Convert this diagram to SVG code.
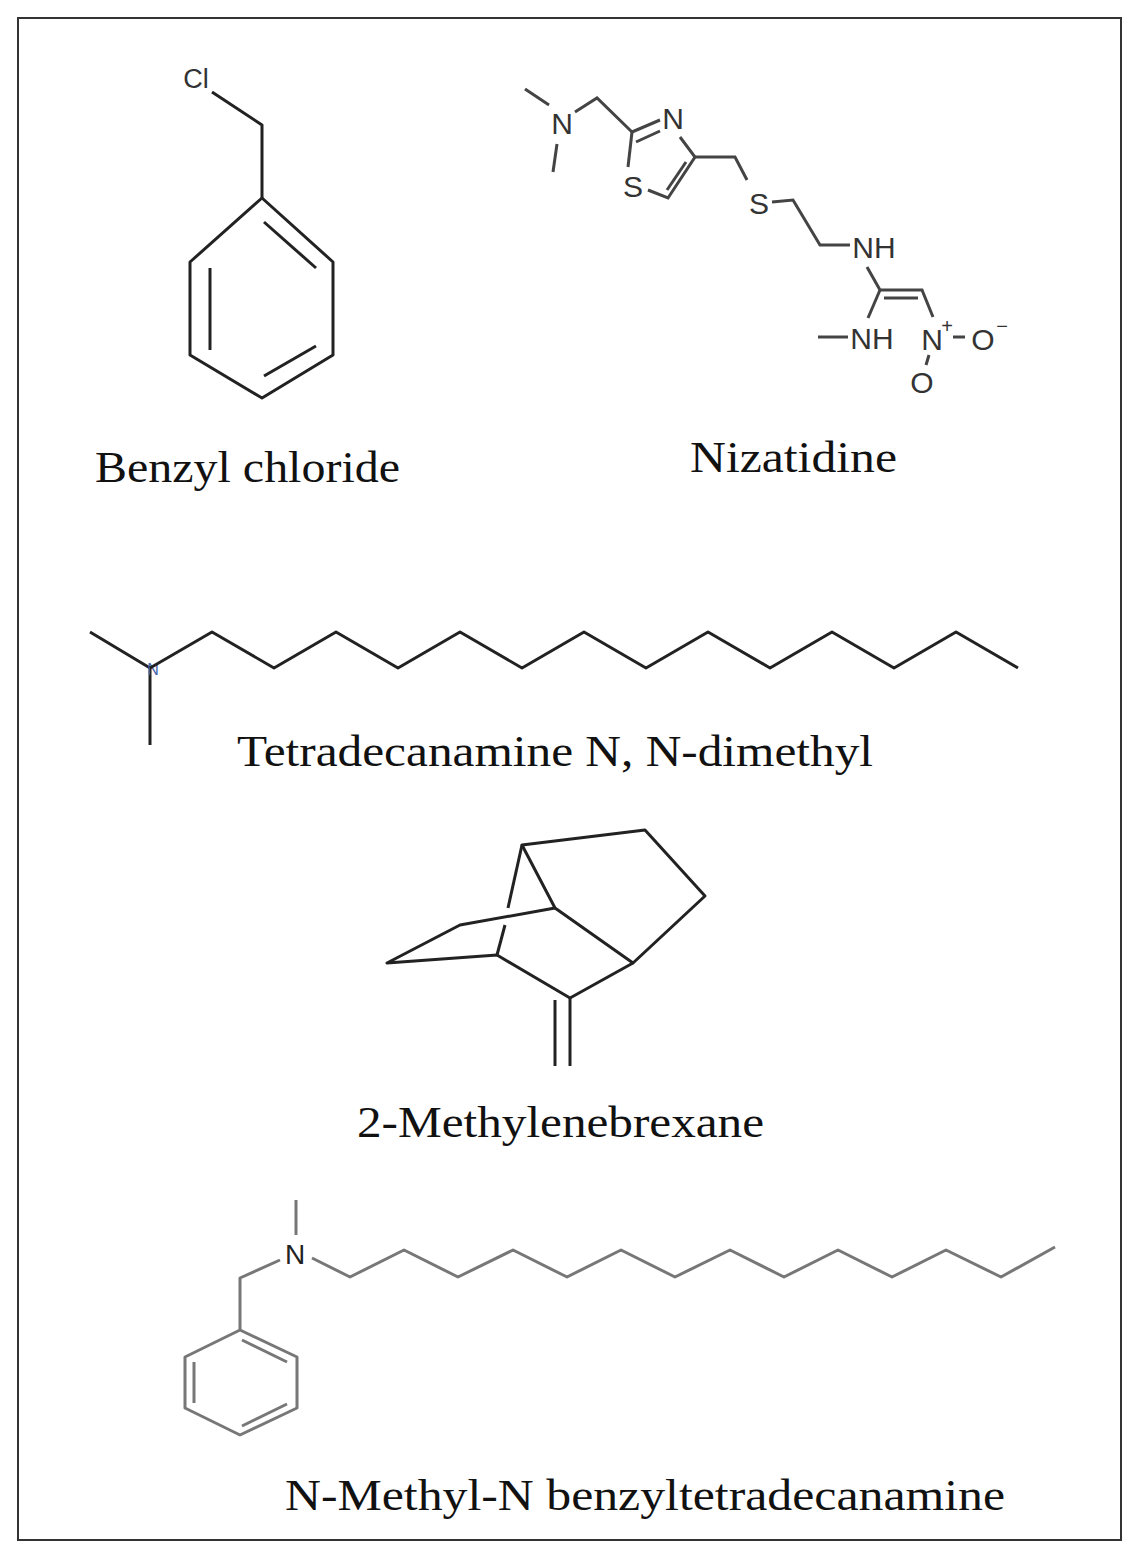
<svg xmlns="http://www.w3.org/2000/svg" width="1139" height="1558" viewBox="0 0 1139 1558">
<style>
.b{fill:none;stroke:#222;stroke-width:3;stroke-linejoin:round}
.g{fill:none;stroke:#777;stroke-width:3;stroke-linejoin:round}
.n{fill:none;stroke:#444;stroke-width:3}
.lab{font-family:"Liberation Serif",serif;font-size:44px;fill:#111}
.at{font-family:"Liberation Sans",sans-serif;font-size:30px;fill:#333;text-anchor:middle}
</style>
<rect x="0" y="0" width="1139" height="1558" fill="#fff"/>
<rect x="18" y="18" width="1103" height="1522" fill="none" stroke="#333" stroke-width="2"/>
<g id="benzyl-chloride">
<text class="at" x="196" y="88" style="font-size:27px">Cl</text>
<polyline class="b" points="212,92 262,125 262,198"/>
<polygon class="b" points="262,198 333,262 333,355 262,398 190,355 190,262"/>
<line class="b" x1="264" y1="222" x2="316" y2="268"/>
<line class="b" x1="210" y1="268" x2="210" y2="350"/>
<line class="b" x1="264" y1="376" x2="316" y2="346"/>
<text class="lab" x="95" y="482" textLength="305" lengthAdjust="spacingAndGlyphs">Benzyl chloride</text>
</g>
<g id="nizatidine">
<line class="n" x1="525" y1="89" x2="549" y2="105"/>
<line class="n" x1="557" y1="144" x2="553" y2="172"/>
<text class="at" x="562" y="134">N</text>
<polyline class="n" points="575,112 597,98 632,132"/>
<line class="n" x1="632" y1="132" x2="660" y2="120"/>
<line class="n" x1="636" y1="142" x2="660" y2="131"/>
<text class="at" x="673" y="129">N</text>
<polyline class="n" points="680,137 695,157 668,198 648,190"/>
<line class="n" x1="686" y1="162" x2="667" y2="190"/>
<text class="at" x="633" y="197">S</text>
<line class="n" x1="628" y1="167" x2="632" y2="132"/>
<polyline class="n" points="695,157 735,157 747,180"/>
<text class="at" x="759" y="214">S</text>
<polyline class="n" points="772,202 793,200 820,245 850,245"/>
<text class="at" x="874" y="258">NH</text>
<polyline class="n" points="867,267 880,290 922,290 933,317"/>
<line class="n" x1="884" y1="298" x2="918" y2="298"/>
<line class="n" x1="880" y1="290" x2="868" y2="318"/>
<line class="n" x1="818" y1="337" x2="848" y2="337"/>
<text class="at" x="872" y="349">NH</text>
<text class="at" x="932" y="350">N</text>
<text class="at" x="947" y="333" style="font-size:20px">+</text>
<line class="n" x1="953" y1="337" x2="965" y2="337"/>
<text class="at" x="983" y="350">O</text>
<text class="at" x="1002" y="333" style="font-size:20px">−</text>
<line class="n" x1="929" y1="355" x2="926" y2="365"/>
<text class="at" x="922" y="393">O</text>
<text class="lab" x="690" y="472" textLength="207" lengthAdjust="spacingAndGlyphs">Nizatidine</text>
</g>
<g id="tetradecanamine">
<polyline class="b" points="90,632 150,668 150,745"/>
<text x="153" y="675" style="font-family:'Liberation Sans',sans-serif;font-size:16px;fill:#46a" text-anchor="middle">N</text>
<polyline class="b" points="150,668 212,632 274,668 336,632 398,668 460,632 522,668 584,632 646,668 708,632 770,668 832,632 894,668 956,632 1018,668"/>
<text class="lab" x="237" y="766" textLength="636" lengthAdjust="spacingAndGlyphs">Tetradecanamine N, N-dimethyl</text>
</g>
<g id="methylenebrexane">
<polygon class="b" points="522,845 645,830 705,896 633,963 555,908"/>
<line class="b" x1="522" y1="845" x2="508" y2="908"/>
<line class="b" x1="505" y1="925" x2="497" y2="955"/>
<polyline class="b" points="555,908 460,925 387,963 497,955 570,998 633,963"/>
<line class="b" x1="555" y1="1000" x2="555" y2="1066"/>
<line class="b" x1="570" y1="998" x2="570" y2="1066"/>
<text class="lab" x="357" y="1137" textLength="407" lengthAdjust="spacingAndGlyphs">2-Methylenebrexane</text>
</g>
<g id="n-methyl-n-benzyltetradecanamine">
<line class="g" x1="296" y1="1200" x2="296" y2="1235"/>
<text x="295" y="1264" style="font-family:'Liberation Sans',sans-serif;font-size:28px;fill:#222" text-anchor="middle">N</text>
<polyline class="g" points="280,1260 240,1278 240,1330"/>
<polygon class="g" points="240,1330 297,1357 297,1408 240,1435 185,1408 185,1357"/>
<line class="g" x1="242" y1="1340" x2="287" y2="1362"/>
<line class="g" x1="194" y1="1362" x2="194" y2="1403"/>
<line class="g" x1="242" y1="1426" x2="287" y2="1404"/>
<polyline class="g" points="312,1258 350,1277 404,1250 458,1277 513,1250 567,1277 621,1250 675,1277 730,1250 784,1277 838,1250 892,1277 946,1250 1001,1277 1055,1247"/>
<text class="lab" x="285" y="1510" textLength="720" lengthAdjust="spacingAndGlyphs">N-Methyl-N benzyltetradecanamine</text>
</g>
</svg>
